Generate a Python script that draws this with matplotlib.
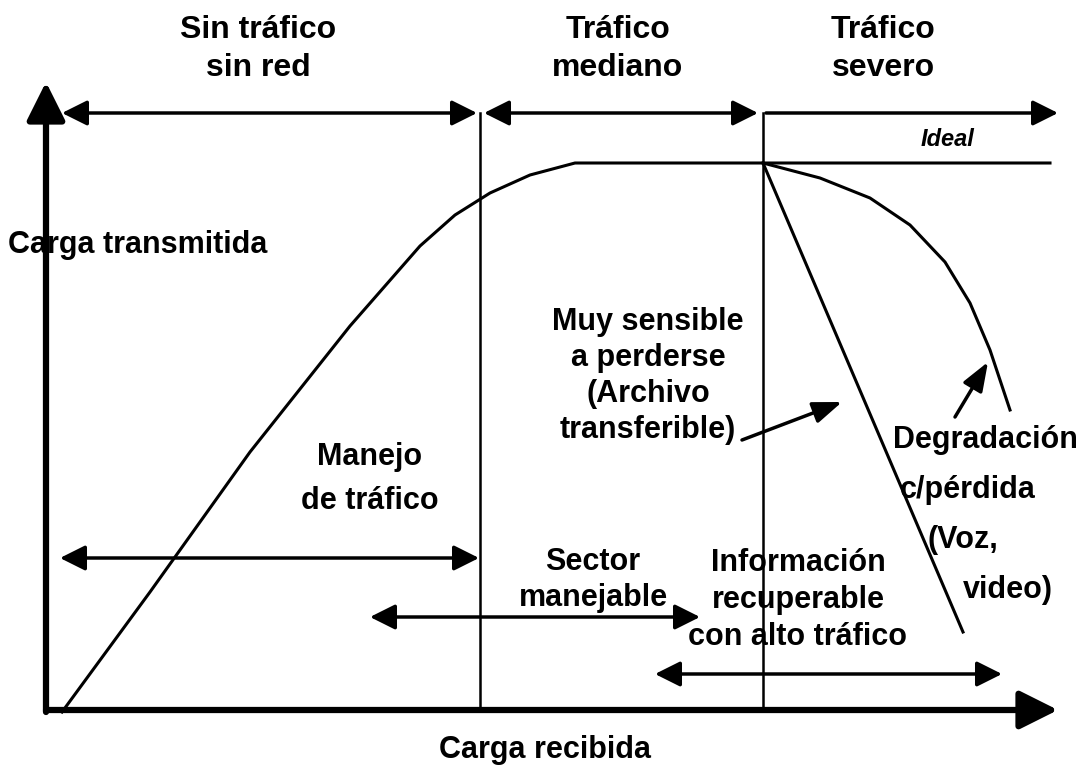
import matplotlib
matplotlib.use("Agg")
import matplotlib.pyplot as plt

# ---- data (diagram coordinates, pixel-like space: x right, y down) ----
ideal_x = [62, 150, 250, 350, 420, 455, 490, 530, 575, 763, 1050]
ideal_y = [712, 592, 452, 326, 246, 215, 193, 175, 163, 163, 163]
degr_x = [763, 820, 870, 910, 945, 970, 990, 1010]
degr_y = [163, 178, 198, 225, 262, 303, 350, 410]
loss_x = [763, 963]
loss_y = [163, 632]
region_bounds = [480, 763]
zone_labels = ["Sin tráfico\nsin red", "Tráfico\nmediano", "Tráfico\nsevero"]
zone_label_x = [258, 618, 883]

fam = "Liberation Sans"

fig = plt.figure(figsize=(10.84, 7.77), dpi=100)
ax = fig.add_axes([0, 0, 1, 1])
ax.set_xlim(0, 1084)
ax.set_ylim(777, 0)
ax.axis("off")

K = "black"
FS = 22

def darrow(x0, x1, y, lw=2.5, both=True, ms=22):
    style = "<|-|>,head_length=0.7,head_width=0.35" if both else "-|>,head_length=0.7,head_width=0.35"
    ax.annotate("", xy=(x1, y), xytext=(x0, y),
                arrowprops=dict(arrowstyle=style, color=K, lw=lw,
                                shrinkA=0, shrinkB=0, mutation_scale=ms))

# axes
ax.annotate("", xy=(1058, 710), xytext=(46, 710),
            arrowprops=dict(arrowstyle="-|>,head_length=0.9,head_width=0.45", color=K, lw=4.5,
                            shrinkA=0, shrinkB=0, mutation_scale=26))
ax.annotate("", xy=(46, 82), xytext=(46, 712),
            arrowprops=dict(arrowstyle="-|>,head_length=0.9,head_width=0.45", color=K, lw=4.5,
                            shrinkA=0, shrinkB=0, mutation_scale=26))

# top zone arrows
darrow(62, 477, 113)
darrow(484, 758, 113)
darrow(766, 1058, 113, both=False)

# vertical zone boundaries
for bx in region_bounds:
    ax.plot([bx, bx], [113, 710], color=K, lw=1.8)

# curves
ax.plot(ideal_x, ideal_y, color=K, lw=2.2)
ax.plot(degr_x, degr_y, color=K, lw=2.2)
ax.plot(loss_x, loss_y, color=K, lw=2.2)

# lower double arrows
darrow(60, 479, 558)
darrow(370, 700, 617)
darrow(655, 1002, 674)

# pointer arrows
ax.annotate("", xy=(842, 402), xytext=(742, 440),
            arrowprops=dict(arrowstyle="-|>,head_length=0.8,head_width=0.3", color=K, lw=2.5,
                            shrinkA=0, shrinkB=0, mutation_scale=22))
ax.annotate("", xy=(988, 362), xytext=(955, 417),
            arrowprops=dict(arrowstyle="-|>,head_length=0.8,head_width=0.3", color=K, lw=2.5,
                            shrinkA=0, shrinkB=0, mutation_scale=22))

def txt(x, y, s, ha="center", size=FS, style="normal", ls=1.15):
    ax.text(x, y, s, ha=ha, va="center", fontsize=size, family=fam,
            fontweight="bold", style=style, color=K, linespacing=ls)

for lab, lx in zip(zone_labels, zone_label_x):
    txt(lx, 49, lab, size=23, ls=1.35)

txt(948, 140, "Ideal", size=17, style="italic")
txt(8, 245, "Carga transmitida", ha="left")
txt(648, 376, "Muy sensible\na perderse\n(Archivo\ntransferible)", ls=1.25)
txt(370, 479, "Manejo\nde tráfico", ls=1.6)
txt(593, 580, "Sector\nmanejable", ls=1.3)
txt(985, 440, "Degradación")
txt(968, 490, "c/pérdida")
txt(963, 540, "(Voz,")
txt(1008, 590, "video)")
txt(798, 600, "Información\nrecuperable\ncon alto tráfico", ls=1.3)
txt(545, 750, "Carga recibida")

fig.savefig("out.png", dpi=100, facecolor="white")
